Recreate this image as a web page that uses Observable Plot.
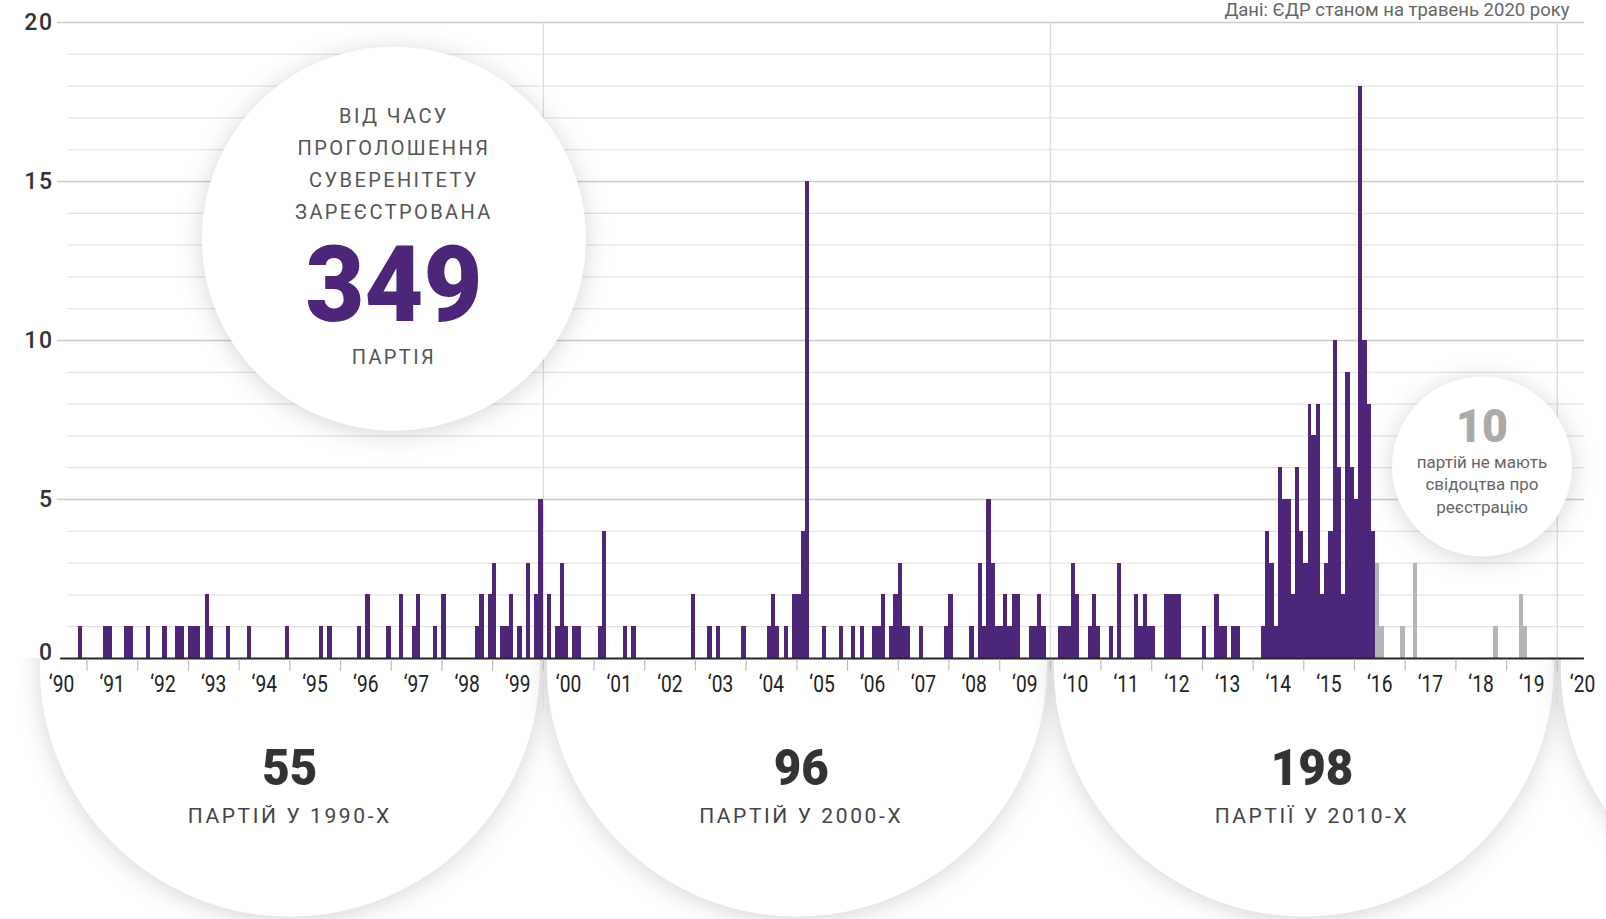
<!DOCTYPE html>
<html><head><meta charset="utf-8">
<script src="https://cdn.jsdelivr.net/npm/d3@7"></script>
<script src="https://cdn.jsdelivr.net/npm/@observablehq/plot@0.6"></script>
<style>
html,body{margin:0;padding:0;background:#fff;}
#chart svg{display:block;}
g[aria-label="dot"] circle{filter: drop-shadow(0 3px 12px rgba(0,0,0,0.17));}
g[aria-label="text"][font-size="20"]{letter-spacing:2.4px;}
g[aria-label="text"][font-size="21"]{letter-spacing:2.6px;}
g[aria-label="text"][font-size="23"]{letter-spacing:1.5px;}
</style></head><body><div id="chart"></div><script>
// Monthly registrations (purple) — month, count
const months = ["1990-11","1991-05","1991-06","1991-10","1991-11","1992-03","1992-07","1992-10","1992-11","1993-01","1993-02","1993-03","1993-05","1993-06","1993-10","1994-03","1994-12","1995-08","1995-10","1996-05","1996-07","1996-12","1997-03","1997-06","1997-07","1997-11","1998-01","1998-09","1998-10","1998-12","1999-01","1999-03","1999-04","1999-05","1999-07","1999-09","1999-11","1999-12",
"2000-02","2000-04","2000-05","2000-06","2000-08","2000-09","2001-02","2001-03","2001-08","2001-10","2002-12","2003-04","2003-06","2003-12","2004-06","2004-07","2004-08","2004-10","2004-12","2005-01","2005-02","2005-03","2005-07","2005-11","2006-02","2006-04","2006-07","2006-08","2006-09","2006-11","2006-12","2007-01","2007-02","2007-03","2007-06","2007-12","2008-01","2008-06","2008-08","2008-09","2008-10","2008-11","2008-12","2009-01","2009-02","2009-03","2009-04","2009-05","2009-08","2009-09","2009-10","2009-11",
"2010-03","2010-04","2010-05","2010-06","2010-07","2010-10","2010-11","2010-12","2011-03","2011-05","2011-09","2011-10","2011-11","2011-12","2012-01","2012-04","2012-05","2012-06","2012-07","2013-01","2013-04","2013-05","2013-06","2013-08","2013-09","2014-03","2014-04","2014-05","2014-06","2014-07","2014-08","2014-09","2014-10","2014-11","2014-12","2015-01","2015-02","2015-03","2015-04","2015-05","2015-06","2015-07","2015-08","2015-09","2015-10","2015-11","2015-12","2016-01","2016-02","2016-03","2016-04","2016-05"];
const counts = [1,1,1,1,1,1,1,1,1,1,1,1,2,1,1,1,1,1,1,1,2,1,2,1,2,1,2,1,2,2,3,1,1,2,1,3,2,5,
2,1,3,1,1,1,1,4,1,1,2,1,1,1,1,2,1,1,2,2,4,15,1,1,1,1,1,1,2,1,2,3,1,1,1,1,2,1,3,1,5,3,1,1,2,1,2,2,1,1,2,1,
1,1,1,3,2,1,2,1,1,3,2,1,2,1,1,2,2,2,2,1,2,1,1,1,1,1,4,3,1,6,5,5,2,6,4,3,8,7,8,2,3,4,10,6,2,9,6,5,18,10,8,4];
// Parties without registration certificate (grey)
const greyMonths = ["2016-06","2016-07","2016-12","2017-03","2018-10","2019-04","2019-05"];
const greyCounts = [3,1,1,3,1,2,1];

const yearLabels = d3.range(1990, 2021);
const yMajor = [5,10,15,20];
const yMinor = d3.range(1, 20).filter(v => v % 5 !== 0);
const decadeLines = [2000, 2010, 2020];
const decadeCenters = [1995, 2005, 2015, 2025];
const decadeTotals = ["55", "96", "198"];
const decadeTexts = ["ПАРТІЙ У 1990-Х", "ПАРТІЙ У 2000-Х", "ПАРТІЇ У 2010-Х"];
const mainLines = ["ВІД ЧАСУ", "ПРОГОЛОШЕННЯ", "СУВЕРЕНІТЕТУ", "ЗАРЕЄСТРОВАНА"];
const mainTotal = "349";
const mainUnit = "ПАРТІЯ";
const noCertTotal = "10";
const noCertLines = ["партій не мають", "свідоцтва про", "реєстрацію"];
const source = "Дані: ЄДР станом на травень 2020 року";

const purple = "#4d2679";
const grey = "#b5b5b5";
const parse = d3.utcParse("%Y-%m");
const D = (y, m = 0, d = 1) => new Date(Date.UTC(y, m, d));

const bars = months.map((m, i) => ({start: parse(m), end: d3.utcMonth.offset(parse(m), 1), count: counts[i]}));
const greyBars = greyMonths.map((m, i) => ({start: parse(m), end: d3.utcMonth.offset(parse(m), 1), count: greyCounts[i]}));

const axisStart = D(1990, 6, 1), axisEnd = D(2020, 6, 1);
const mainAt = {x: D(1997, 0, 20), y: 13.2};
const noCertAt = {x: D(2018, 6, 8), y: 6.04};
const sans = "Roboto, 'Open Sans', sans-serif";

const txt = (str, at, dy, o) => Plot.text([str], {x: () => at.x, y: () => at.y, dy, text: d => d, ...o});

const chart = Plot.plot({
  width: 1606, height: 919,
  marginLeft: 61, marginRight: 24, marginTop: 22, marginBottom: 261,
  style: {fontFamily: sans, background: "white", overflow: "visible"},
  x: {type: "utc", domain: [axisStart, axisEnd], axis: null},
  y: {domain: [0, 20], axis: null},
  marks: [
    // decade bubbles below the axis
    Plot.dot(decadeCenters, {x: d => D(d), y: () => -0.25, r: 250, fill: "white"}),
    // white cover so bubbles only show below the axis
    Plot.rect([0], {x1: () => D(1988), x2: () => D(2023), y1: () => 0, y2: () => 21, fill: "white"}),
    // gridlines
    Plot.ruleY(yMinor, {x1: () => D(1990, 7, 15), x2: () => D(2020, 6, 15), stroke: "#e4e4e4", strokeWidth: 1.3}),
    Plot.ruleY(yMajor, {x1: () => D(1990, 5, 1), x2: () => D(2020, 6, 15), stroke: "#cbcbcb", strokeWidth: 1.6}),
    Plot.ruleX(decadeLines, {x: d => D(d), y1: () => -1.6, y2: () => 20, stroke: "#dddddd", strokeWidth: 1.3}),
    // bars
    Plot.rect(bars, {x1: "start", x2: "end", y1: () => 0, y2: "count", fill: purple, inset: 0, shapeRendering: "crispEdges"}),
    Plot.rect(greyBars, {x1: "start", x2: "end", y1: () => 0, y2: "count", fill: grey, inset: 0, shapeRendering: "crispEdges"}),
    // x axis
    Plot.ruleY([0], {x1: () => D(1990, 5, 25), x2: () => D(2020, 6, 15), stroke: "#262626", strokeWidth: 2.2}),
    Plot.ruleX(d3.range(1991, 2021), {x: d => D(d), y1: () => -0.03, y2: () => -0.4, stroke: "#bdbdbd", strokeWidth: 1.2}),
    Plot.text(yearLabels, {x: d => D(d, 6, 1), y: () => 0, dy: 26, text: d => "\u2018" + String(d).slice(2), fontSize: 24, fill: "#222"}),
    // y labels
    Plot.text(yMajor, {x: () => axisStart, y: d => d, dx: -8, textAnchor: "end", text: d => String(d), fontSize: 23, fontWeight: 500, fill: "#333"}),
    Plot.text([0], {x: () => axisStart, y: d => d, dx: -8, dy: -6, textAnchor: "end", text: d => String(d), fontSize: 23, fontWeight: 500, fill: "#333"}),
    // main bubble
    Plot.dot([mainAt], {x: "x", y: "y", r: 192, fill: "white"}),
    txt(mainLines[0], mainAt, -122, {fontSize: 20, fill: "#555"}),
    txt(mainLines[1], mainAt, -90, {fontSize: 20, fill: "#555"}),
    txt(mainLines[2], mainAt, -58, {fontSize: 20, fill: "#555"}),
    txt(mainLines[3], mainAt, -26, {fontSize: 20, fill: "#555"}),
    txt(mainTotal, mainAt, 48, {fontSize: 106, fontWeight: 900, fill: purple}),
    txt(mainUnit, mainAt, 119, {fontSize: 20, fill: "#555"}),
    // no-certificate bubble
    Plot.dot([noCertAt], {x: "x", y: "y", r: 90, fill: "white"}),
    txt(noCertTotal, noCertAt, -39, {fontSize: 47, fontWeight: 900, fill: "#aaaaaa"}),
    txt(noCertLines[0], noCertAt, -4, {fontSize: 17, fill: "#666"}),
    txt(noCertLines[1], noCertAt, 18.5, {fontSize: 17, fill: "#666"}),
    txt(noCertLines[2], noCertAt, 41, {fontSize: 17, fill: "#666"}),
    // decade totals
    Plot.text(decadeTotals, {x: (d, i) => D(decadeCenters[i], i * 1, 1), y: () => 0, dy: 110, text: d => d, fontSize: 50, fontWeight: 900, fill: "#333"}),
    Plot.text(decadeTexts, {x: (d, i) => D(decadeCenters[i], i * 1, 1), y: () => 0, dy: 158, text: d => d, fontSize: 21, fill: "#444"}),
    // source
    Plot.text([source], {frameAnchor: "top-right", dx: -13, dy: -20, text: d => d, fontSize: 18.5, fill: "#666"})
  ]
});
document.getElementById("chart").appendChild(chart);
// condense glyphs to mimic the condensed display face
function condense(sel, k) {
  d3.select(chart).selectAll(sel).each(function() {
    const w = this.getComputedTextLength();
    this.setAttribute("textLength", (w * k).toFixed(1));
    this.setAttribute("lengthAdjust", "spacingAndGlyphs");
  });
}
condense('g[aria-label="text"][font-size="24"] text', 0.8);
condense('g[aria-label="text"][font-size="106"] text', 0.96);
condense('g[aria-label="text"][font-size="50"] text', 0.95);
condense('g[aria-label="text"][font-size="47"] text', 0.95);
</script></body></html>
